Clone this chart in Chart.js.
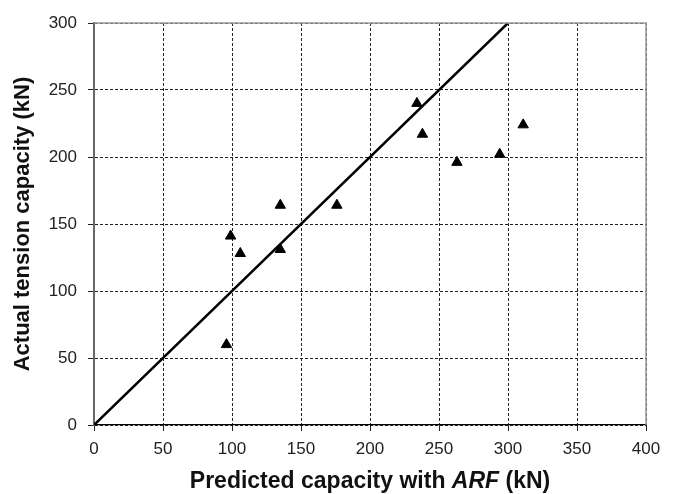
<!DOCTYPE html>
<html>
<head>
<meta charset="utf-8">
<script src="https://cdn.jsdelivr.net/npm/chart.js@4"></script>
<style>
  body { margin:0; background:#fff; }
  #wrap { width:675px; height:494px; }
</style>
</head>
<body>
<div id="wrap"><canvas id="reports"></canvas></div>
<script>
// predicted capacity (kN) vs actual tension capacity (kN)
const predicted = [96, 99, 106, 135, 135, 176, 234, 238, 263, 294, 311];
const actual    = [60, 141, 128, 131, 164, 164, 240, 217, 196, 202, 224];
const lineX = [0, 300];
const lineY = [0, 300];
const xTicks = [0, 50, 100, 150, 200, 250, 300, 350, 400];
const yTicks = [0, 50, 100, 150, 200, 250, 300];

const xTitle = ["Predicted capacity with ", "ARF", " (kN)"];
const yTitle = "Actual tension capacity (kN)";

const frame = {
  id: 'frame',
  afterDatasetsDraw(chart) {
    const a = chart.chartArea, ctx = chart.ctx;
    ctx.save();
    ctx.strokeStyle = '#999';
    ctx.lineWidth = 1.5;
    ctx.beginPath();
    ctx.moveTo(a.left, a.top);
    ctx.lineTo(a.right, a.top);
    ctx.lineTo(a.right, a.bottom);
    ctx.stroke();
    ctx.restore();
  },
  afterDraw(chart) {
    const a = chart.chartArea, ctx = chart.ctx;
    const fonts = ['bold 23px "Liberation Sans", Arial', 'italic bold 23px "Liberation Sans", Arial', 'bold 23px "Liberation Sans", Arial'];
    ctx.save();
    ctx.fillStyle = '#111';
    ctx.textBaseline = 'middle';
    let w = 0;
    xTitle.forEach((t, i) => { ctx.font = fonts[i]; w += ctx.measureText(t).width; });
    let x = (a.left + a.right) / 2 - w / 2;
    xTitle.forEach((t, i) => {
      ctx.font = fonts[i];
      ctx.fillText(t, x, 482);
      x += ctx.measureText(t).width;
    });
    ctx.restore();
  }
};

function creareReports() {
  const pts = predicted.map((p, i) => ({x: p, y: actual[i]}));
  const line = lineX.map((p, i) => ({x: p, y: lineY[i]}));

  new Chart(document.getElementById('reports'), {
    type: 'scatter',
    data: {
      datasets: [
        {
          label: 'Tests',
          data: pts,
          pointStyle: 'triangle',
          pointRadius: 6,
          backgroundColor: '#000',
          borderColor: '#000',
          borderWidth: 1
        },
        {
          type: 'line',
          label: 'y = x',
          data: line,
          borderColor: '#000',
          borderWidth: 2.5,
          pointRadius: 0,
          fill: false
        }
      ]
    },
    options: {
      responsive: true,
      maintainAspectRatio: false,
      animation: false,
      layout: { padding: { left: 0, right: 29, top: 23, bottom: 0 } },
      plugins: { legend: { display: false }, tooltip: { enabled: false } },
      scales: {
        x: {
          type: 'linear',
          min: 0, max: 400,
          afterBuildTicks: s => { s.ticks = xTicks.map(v => ({value: v})); },
          afterFit: s => { s.height = 69; },
          ticks: { color: '#222', font: { family: '"Liberation Sans", Arial', size: 17 }, padding: 8, maxRotation: 0 },
          grid: { color: '#222', lineWidth: 1, tickLength: 6, tickColor: '#222', tickBorderDash: [] },
          border: { color: '#000', width: 1.2, dash: [3, 2] },
          title: { display: false }
        },
        y: {
          type: 'linear',
          min: 0, max: 300,
          afterBuildTicks: s => { s.ticks = yTicks.map(v => ({value: v})); },
          afterFit: s => { s.width = 94; },
          ticks: { color: '#222', font: { family: '"Liberation Sans", Arial', size: 17 }, padding: 11 },
          grid: { color: '#222', lineWidth: 1, tickLength: 6, tickColor: '#222', tickBorderDash: [] },
          border: { color: '#666', width: 2, dash: [3, 2] },
          title: {
            display: true,
            text: yTitle,
            color: '#111',
            font: { family: '"Liberation Sans", Arial', size: 22, weight: 'bold' },
            padding: { top: 10, bottom: 0 }
          }
        }
      }
    },
    plugins: [frame]
  });
}

window.addEventListener("load", function(){
  creareReports();
});
</script>
</body>
</html>
